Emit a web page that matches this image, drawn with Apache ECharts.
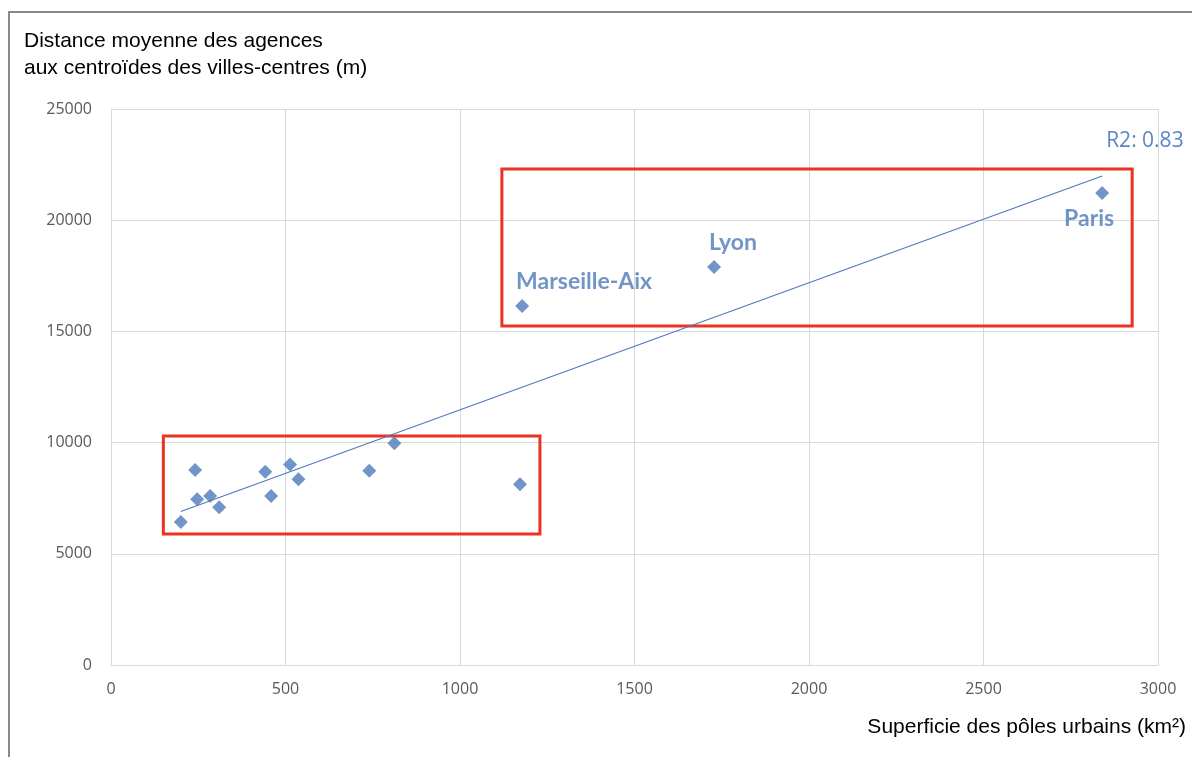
<!DOCTYPE html>
<html>
<head>
<meta charset="utf-8">
<script src="https://cdn.jsdelivr.net/npm/echarts@6/dist/echarts.min.js"></script>
<style>
  html, body { margin: 0; padding: 0; background: #fff; }
  #chartmain { width: 1192px; height: 757px; }
</style>
</head>
<body>
<div id="chartmain"></div>
<script>
// superficie (km2) / distance moyenne (m)
var surface = [200, 241, 247, 284, 310, 442, 459, 513, 537, 740, 812, 1172, 1178, 1728, 2840];
var distance = [6430, 8770, 7450, 7600, 7090, 8690, 7600, 9020, 8350, 8735, 9970, 8125, 16140, 17900, 21220];
var cityNames = ['', '', '', '', '', '', '', '', '', '', '', '', 'Marseille-Aix', 'Lyon', 'Paris'];

// droite de tendance (extrémités)
var trendX = [200, 2840];
var trendY = [6900, 21990];
var r2Text = 'R2: 0.83';

// cadres rouges [xmin, ymin, xmax, ymax]
var boxSmall = [150, 5890, 1229, 10300];
var boxLarge = [1120, 15240, 2926, 22300];

var xTicks = [0, 500, 1000, 1500, 2000, 2500, 3000];
var yTicks = [0, 5000, 10000, 15000, 20000, 25000];

var blue = '#4E7BBC';

var labelPos = {
  'Marseille-Aix': { position: [1, -17], align: 'left' },
  'Lyon': { position: [2, -17], align: 'left' },
  'Paris': { position: [19, 33], align: 'right' }
};

var points = [];
for (var i = 0; i < surface.length; i++) {
  var item = { value: [surface[i], distance[i]], name: cityNames[i] };
  if (cityNames[i]) {
    item.label = {
      show: true,
      formatter: cityNames[i],
      position: labelPos[cityNames[i]].position,
      align: labelPos[cityNames[i]].align,
      verticalAlign: 'middle'
    };
  }
  points.push(item);
}

var trend = [];
for (var j = 0; j < trendX.length; j++) {
  trend.push([trendX[j], trendY[j]]);
}

var boxStyle = { color: 'rgba(0,0,0,0)', borderColor: '#EC3323', borderWidth: 3 };

function plain(v) { return String(v); }

var option = {
  animation: false,
  backgroundColor: '#fff',
  title: {
    text: 'Distance moyenne des agences\naux centroïdes des villes-centres (m)',
    left: 19,
    top: 23,
    textStyle: {
      fontFamily: 'Liberation Sans',
      fontWeight: 'normal',
      fontSize: 21,
      color: '#000',
      lineHeight: 27
    }
  },
  graphic: [{
    type: 'polyline',
    shape: { points: [[9, 757], [9, 12], [1192, 12]] },
    style: { stroke: '#8a8a8a', lineWidth: 2, fill: null }
  }],
  grid: { left: 111, right: 34, top: 109, bottom: 92 },
  xAxis: {
    type: 'value',
    min: xTicks[0],
    max: xTicks[xTicks.length - 1],
    interval: 500,
    name: 'Superficie des pôles urbains (km²)',
    nameLocation: 'end',
    nameGap: 0,
    nameTextStyle: {
      fontFamily: 'Liberation Sans',
      fontSize: 21,
      color: '#000',
      align: 'right',
      verticalAlign: 'top',
      padding: [52, -28, 0, 0]
    },
    axisLine: { show: true, lineStyle: { color: '#d9d9d9' } },
    axisTick: { show: false },
    axisLabel: { fontFamily: 'Open Sans', fontSize: 16, color: '#595959', margin: 16, formatter: plain },
    splitLine: { show: true, lineStyle: { color: '#d9d9d9' } }
  },
  yAxis: {
    type: 'value',
    min: yTicks[0],
    max: yTicks[yTicks.length - 1],
    interval: 5000,
    axisLine: { show: true, lineStyle: { color: '#d9d9d9' } },
    axisTick: { show: false },
    axisLabel: { fontFamily: 'Open Sans', fontSize: 16, color: '#595959', margin: 19, formatter: plain },
    splitLine: { show: true, lineStyle: { color: '#d9d9d9' } }
  },
  series: [{
    type: 'line',
    data: trend,
    showSymbol: false,
    symbol: 'none',
    lineStyle: { color: blue, width: 1.2 },
    endLabel: {
      show: true,
      formatter: r2Text,
      offset: [-4, -35],
      fontFamily: 'Open Sans',
      fontSize: 21,
      color: '#5B86C5'
    },
    markArea: {
      silent: true,
      itemStyle: boxStyle,
      data: [
        [{ coord: [boxSmall[0], boxSmall[1]] }, { coord: [boxSmall[2], boxSmall[3]] }],
        [{ coord: [boxLarge[0], boxLarge[1]] }, { coord: [boxLarge[2], boxLarge[3]] }]
      ]
    },
    z: 2
  }, {
    type: 'scatter',
    data: points,
    symbol: 'diamond',
    symbolSize: 14,
    itemStyle: { color: blue },
    label: {
      fontFamily: 'Lato',
      fontWeight: 'bold',
      fontSize: 23,
      color: '#5079B9'
    },
    z: 3
  }]
};

var myChart = echarts.init(document.getElementById('chartmain'));
myChart.setOption(option);
</script>
</body>
</html>
